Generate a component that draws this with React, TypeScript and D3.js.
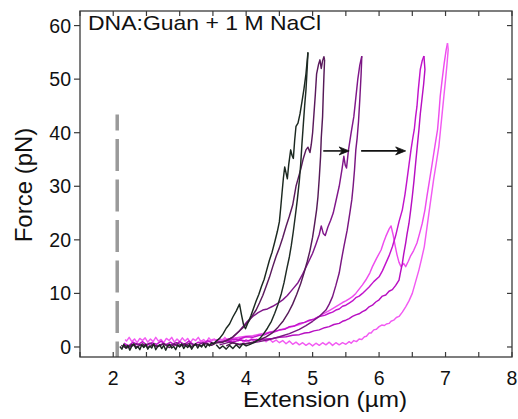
import React from 'react';
import * as d3 from 'd3';

type P = [number, number];

// ---------- data ----------
const xMajorTicks = [2, 3, 4, 5, 6, 7, 8];
const xMinorTicks = [1.5, 2, 2.5, 3, 3.5, 4, 4.5, 5, 5.5, 6, 6.5, 7, 7.5, 8];
const yTicks = [0, 10, 20, 30, 40, 50, 60];

const annotation = 'DNA:Guan + 1 M NaCl';
const xTitle = 'Extension (\u00b5m)';
const yTitle = 'Force (pN)';

// cycle 1 (black)
const blackStretch: P[] = [
  [2.10, 0.1], [2.13, -0.4], [2.16, 0.5], [2.19, -0.2], [2.22, 0.3], [2.25, -0.6], [2.28, 0.2], [2.31, 0.6],
  [2.34, -0.3], [2.37, 0.1], [2.40, -0.5], [2.43, 0.4], [2.46, -0.1], [2.49, 0.5], [2.52, -0.4], [2.55, 0.2],
  [2.58, -0.2], [2.61, 0.6], [2.64, -0.5], [2.67, 0.1], [2.70, 0.4], [2.73, -0.3], [2.76, 0.3], [2.79, -0.6],
  [2.82, 0.2], [2.85, 0.5], [2.88, -0.2], [2.91, 0.1], [2.94, -0.5], [2.97, 0.4], [3.00, 0.0], [3.03, 0.6],
  [3.06, -0.3], [3.09, 0.3], [3.12, -0.1], [3.15, 0.5], [3.18, -0.4], [3.21, 0.2], [3.24, 0.6], [3.27, -0.2],
  [3.30, 0.4], [3.33, 0.0], [3.36, 0.6], [3.39, -0.1], [3.42, 0.5], [3.45, 0.2], [3.48, 0.8], [3.51, 0.6],
  [3.55, 1.1], [3.60, 1.6], [3.65, 2.4], [3.70, 3.5], [3.75, 4.3], [3.80, 5.6], [3.85, 6.7], [3.90, 8.0],
  [3.93, 6.0], [3.96, 4.2], [3.99, 3.4], [4.03, 4.6], [4.07, 5.8], [4.11, 7.2], [4.15, 8.6], [4.19, 9.8],
  [4.23, 11.3], [4.27, 12.6], [4.31, 14.4], [4.35, 16.2], [4.39, 17.7], [4.43, 19.6], [4.47, 21.6], [4.50, 23.4],
  [4.52, 26.0], [4.54, 28.8], [4.56, 31.5], [4.58, 33.6], [4.60, 32.5], [4.62, 31.4], [4.64, 34.0], [4.67, 36.8],
  [4.69, 35.8], [4.71, 35.2], [4.73, 38.6], [4.75, 41.2], [4.78, 41.8], [4.81, 43.5], [4.84, 45.8], [4.87, 48.2],
  [4.90, 51.0], [4.93, 55.0],
];
const blackRelax: P[] = [
  [4.93, 55.0], [4.92, 52.4], [4.90, 48.0], [4.88, 45.0], [4.86, 41.5], [4.84, 38.0], [4.82, 34.0], [4.80, 31.0],
  [4.77, 27.5], [4.74, 24.5], [4.71, 21.6], [4.68, 19.0], [4.65, 16.8], [4.61, 14.5], [4.57, 12.0], [4.53, 10.0],
  [4.48, 8.0], [4.43, 6.3], [4.38, 4.8], [4.32, 3.5], [4.26, 2.4], [4.20, 1.5], [4.13, 0.9], [4.06, 0.5],
  [4.00, 0.2], [3.95, 0.6], [3.90, -0.2], [3.85, 0.4], [3.80, -0.3], [3.75, 0.3], [3.70, -0.4], [3.65, 0.2],
  [3.60, -0.3], [3.55, 0.4],
];

// cycle 2 (dark purple)
const c2Stretch: P[] = [
  [2.12, 0.3], [2.20, -0.2], [2.28, 0.5], [2.36, 0.0], [2.44, 0.6], [2.52, -0.1], [2.60, 0.4], [2.68, 0.1],
  [2.76, 0.6], [2.84, -0.1], [2.92, 0.5], [3.00, 0.1], [3.08, 0.6], [3.16, 0.0], [3.24, 0.5], [3.32, 0.2],
  [3.40, 0.7], [3.48, 0.3], [3.56, 0.8], [3.65, 0.9], [3.72, 1.3], [3.80, 1.9], [3.88, 2.8], [3.96, 3.7],
  [4.04, 4.8], [4.10, 6.0], [4.15, 6.9], [4.20, 8.2], [4.25, 9.6], [4.30, 11.3], [4.35, 13.0], [4.40, 15.0],
  [4.45, 16.9], [4.50, 18.5], [4.55, 20.4], [4.60, 22.5], [4.65, 24.4], [4.70, 26.5], [4.75, 30.0], [4.79, 31.8],
  [4.82, 33.1], [4.86, 35.2], [4.90, 36.8], [4.93, 37.3], [4.96, 36.3], [4.98, 37.8], [5.00, 40.0], [5.02, 43.5],
  [5.04, 47.0], [5.06, 51.0], [5.09, 52.8], [5.11, 53.6], [5.13, 52.0], [5.15, 53.4], [5.17, 54.2], [5.18, 53.6],
];
const c2Relax: P[] = [
  [5.18, 53.6], [5.17, 50.5], [5.16, 47.0], [5.15, 43.0], [5.13, 39.0], [5.12, 35.6], [5.10, 31.5], [5.08, 28.0],
  [5.06, 25.6], [5.03, 23.0], [5.00, 20.5], [4.96, 18.0], [4.92, 16.0], [4.87, 13.8], [4.82, 11.8], [4.76, 9.8],
  [4.70, 8.0], [4.63, 6.3], [4.56, 4.9], [4.48, 3.7], [4.40, 2.7], [4.30, 1.9], [4.20, 1.3], [4.10, 0.9],
  [4.00, 0.6], [3.90, 0.4], [3.80, 0.8], [3.70, 0.2],
];

// cycle 3 (purple)
const c3Stretch: P[] = [
  [2.15, 0.4], [2.25, 0.0], [2.35, 0.6], [2.45, 0.2], [2.55, 0.7], [2.65, 0.1], [2.75, 0.6], [2.85, 0.3],
  [2.95, 0.8], [3.05, 0.2], [3.15, 0.7], [3.25, 0.3], [3.35, 0.8], [3.45, 0.4], [3.55, 0.9], [3.65, 1.0],
  [3.72, 1.3], [3.80, 1.8], [3.90, 3.0], [3.95, 3.8], [4.02, 4.8], [4.10, 5.7], [4.18, 6.4], [4.25, 6.9],
  [4.32, 7.1], [4.40, 7.6], [4.48, 8.2], [4.55, 8.8], [4.62, 9.6], [4.70, 10.8], [4.78, 12.0], [4.85, 13.6],
  [4.92, 15.4], [5.00, 17.5], [5.05, 19.2], [5.10, 21.0], [5.13, 22.6], [5.16, 21.2], [5.19, 20.8], [5.23, 22.4],
  [5.27, 23.6], [5.31, 25.0], [5.35, 27.2], [5.40, 30.0], [5.44, 33.0], [5.47, 35.6], [5.49, 34.0], [5.51, 33.4],
  [5.54, 36.8], [5.58, 40.0], [5.62, 43.0], [5.65, 46.5], [5.68, 50.0], [5.71, 52.6], [5.74, 54.3],
];
const c3Relax: P[] = [
  [5.74, 54.3], [5.73, 51.0], [5.71, 46.2], [5.69, 42.0], [5.67, 39.0], [5.65, 36.8], [5.63, 33.0], [5.61, 30.0],
  [5.59, 27.5], [5.56, 25.0], [5.52, 21.8], [5.47, 18.7], [5.43, 16.0], [5.40, 13.8], [5.35, 11.5], [5.30, 9.4],
  [5.25, 8.0], [5.20, 6.9], [5.10, 5.7], [5.00, 4.8], [4.90, 4.0], [4.80, 3.3], [4.65, 2.5], [4.50, 1.9],
  [4.35, 1.4], [4.20, 1.0], [4.05, 0.7], [3.90, 0.5], [3.75, 0.9], [3.60, 0.4],
];

// cycle 4 (magenta)
const c4Stretch: P[] = [
  [2.16, 0.7], [2.23, 0.2], [2.30, 0.9], [2.37, 0.4], [2.44, 1.0], [2.51, 0.3], [2.58, 0.8], [2.65, 0.5],
  [2.72, 1.1], [2.79, 0.4], [2.86, 0.9], [2.93, 0.3], [3.00, 1.0], [3.07, 0.5], [3.14, 1.1], [3.21, 0.4],
  [3.28, 0.9], [3.35, 0.6], [3.42, 1.2], [3.50, 0.7], [3.60, 1.0], [3.70, 1.1], [3.80, 1.4], [3.90, 1.5],
  [4.00, 1.9], [4.10, 1.8], [4.20, 2.2], [4.28, 2.3], [4.35, 2.7], [4.42, 2.8], [4.50, 3.2], [4.58, 3.3],
  [4.65, 3.8], [4.72, 3.9], [4.80, 4.4], [4.88, 4.6], [4.95, 5.0], [5.02, 5.2], [5.10, 5.7], [5.18, 5.9],
  [5.25, 6.3], [5.30, 6.5], [5.35, 6.9], [5.40, 7.1], [5.45, 7.6], [5.50, 7.8], [5.55, 8.2], [5.60, 8.6],
  [5.65, 9.2], [5.70, 9.5], [5.75, 10.0], [5.80, 10.6], [5.85, 11.2], [5.92, 12.2], [6.00, 13.1], [6.05, 14.2],
  [6.10, 15.6], [6.15, 17.0], [6.20, 18.7], [6.25, 20.8], [6.30, 23.4], [6.35, 25.6], [6.39, 28.5], [6.42, 31.2],
  [6.45, 34.0], [6.48, 36.8], [6.51, 39.2], [6.53, 40.6], [6.55, 43.0], [6.57, 44.9], [6.59, 48.0], [6.62, 51.8],
  [6.65, 53.5], [6.675, 54.3],
];
const c4Relax: P[] = [
  [6.675, 54.3], [6.69, 51.8], [6.67, 49.0], [6.65, 46.8], [6.62, 43.5], [6.60, 40.6], [6.575, 37.5], [6.55, 34.3],
  [6.525, 31.0], [6.50, 28.1], [6.475, 25.5], [6.45, 23.1], [6.42, 21.0], [6.40, 19.4], [6.37, 17.3], [6.35, 15.6],
  [6.32, 13.8], [6.30, 12.5], [6.25, 11.5], [6.20, 10.7], [6.15, 10.4], [6.10, 9.7], [6.05, 9.5], [6.00, 8.8],
  [5.95, 8.4], [5.90, 7.8], [5.85, 7.5], [5.80, 6.9], [5.75, 6.6], [5.70, 6.2], [5.65, 6.0], [5.60, 5.7],
  [5.55, 5.3], [5.50, 5.0], [5.45, 4.8], [5.40, 4.4], [5.32, 4.2], [5.25, 3.8], [5.18, 3.6], [5.10, 3.2],
  [5.02, 3.0], [4.95, 2.7], [4.88, 2.6], [4.80, 2.3], [4.70, 2.2], [4.60, 1.9], [4.50, 1.8], [4.40, 1.6],
  [4.30, 1.5], [4.20, 1.3], [4.10, 1.4], [4.00, 1.1], [3.90, 1.3], [3.80, 0.9], [3.70, 1.2], [3.60, 0.8],
];

// cycle 5 (pink)
const c5Stretch: P[] = [
  [3.30, 1.2], [3.40, 0.8], [3.50, 1.4], [3.60, 1.3], [3.70, 1.5], [3.80, 1.6], [3.90, 1.8], [4.00, 2.0],
  [4.10, 2.1], [4.20, 2.4], [4.30, 2.6], [4.40, 2.9], [4.50, 3.1], [4.60, 3.5], [4.70, 3.8], [4.80, 4.2],
  [4.88, 4.6], [4.95, 4.9], [5.02, 5.2], [5.10, 5.7], [5.18, 6.3], [5.25, 6.8], [5.32, 7.3], [5.40, 7.9],
  [5.45, 8.3], [5.50, 8.6], [5.55, 9.0], [5.60, 9.4], [5.65, 10.0], [5.70, 10.8], [5.75, 11.6], [5.80, 12.5],
  [5.86, 13.8], [5.90, 15.0], [5.96, 16.5], [6.03, 18.1], [6.07, 19.6], [6.10, 20.6], [6.15, 22.0], [6.18, 22.6],
  [6.21, 21.0], [6.24, 19.0], [6.27, 17.2], [6.30, 15.8], [6.33, 15.0], [6.37, 15.6], [6.40, 15.0], [6.44, 16.0],
  [6.47, 16.9], [6.52, 18.0], [6.57, 19.4], [6.61, 21.2], [6.65, 23.1], [6.69, 25.6], [6.72, 28.1], [6.76, 31.2],
  [6.80, 34.3], [6.84, 37.5], [6.88, 40.6], [6.90, 43.5], [6.92, 46.8], [6.95, 50.0], [6.98, 53.0], [7.01, 55.5],
  [7.03, 56.7],
];
const c5Relax: P[] = [
  [7.03, 56.7], [7.04, 55.5], [7.02, 52.5], [7.00, 49.9], [6.975, 46.8], [6.95, 43.7], [6.925, 40.6], [6.90, 37.5],
  [6.86, 34.3], [6.82, 31.2], [6.785, 28.1], [6.75, 25.0], [6.715, 21.8], [6.68, 18.7], [6.64, 16.5], [6.60, 14.4],
  [6.55, 12.2], [6.50, 10.0], [6.45, 8.6], [6.40, 7.5], [6.35, 6.5], [6.30, 5.7], [6.26, 5.5], [6.22, 5.0],
  [6.18, 4.8], [6.15, 4.4], [6.11, 4.3], [6.08, 4.0], [6.04, 4.1], [6.00, 3.8], [5.96, 3.3], [5.92, 3.2],
  [5.88, 2.6], [5.85, 2.6], [5.81, 2.0], [5.78, 1.9], [5.74, 1.4], [5.70, 1.5], [5.66, 1.0], [5.62, 1.2],
  [5.58, 0.7], [5.55, 1.0], [5.50, 0.5], [5.45, 0.8], [5.40, 0.4], [5.35, 0.8], [5.30, 0.3], [5.25, 0.9],
  [5.20, 0.4], [5.15, 0.8], [5.10, 0.3], [5.05, 0.7], [5.00, 0.2], [4.95, 0.7], [4.90, 0.3], [4.85, 0.8],
  [4.80, 0.4], [4.75, 0.9], [4.70, 0.5], [4.65, 1.1], [4.60, 0.6], [4.55, 1.2], [4.50, 0.8], [4.45, 1.3],
  [4.40, 0.9], [4.35, 1.5], [4.30, 1.0], [4.25, 1.6], [4.20, 1.1], [4.16, 1.5], [4.12, 0.9], [4.08, 1.6],
  [4.04, 1.0], [4.00, 1.4], [3.96, 0.8], [3.92, 1.6], [3.88, 1.1], [3.84, 1.7], [3.80, 0.9], [3.76, 1.5],
  [3.72, 1.0], [3.68, 1.8], [3.64, 1.2], [3.60, 1.6], [3.56, 0.8], [3.52, 1.5], [3.48, 1.1], [3.44, 1.7],
  [3.40, 0.9], [3.36, 1.4], [3.32, 1.0], [3.28, 1.8], [3.24, 1.2], [3.20, 1.5], [3.16, 0.8], [3.12, 1.6],
  [3.08, 1.1], [3.04, 1.7], [3.00, 1.0], [2.96, 1.5], [2.92, 0.9], [2.88, 1.8], [2.84, 1.2], [2.80, 1.6],
  [2.76, 0.8], [2.72, 1.4], [2.68, 1.1], [2.64, 1.8], [2.60, 1.0], [2.56, 1.5], [2.52, 0.9], [2.48, 1.7],
  [2.44, 1.2], [2.40, 1.6], [2.36, 0.8], [2.32, 1.5], [2.28, 1.0], [2.24, 1.8], [2.20, 1.1], [2.18, 1.4],
];

const curves: { name: string; color: string; pts: P[] }[] = [
  { name: 'c5s', color: '#ee4cee', pts: c5Stretch },
  { name: 'c5r', color: '#f25af2', pts: c5Relax },
  { name: 'c4s', color: '#c214cc', pts: c4Stretch },
  { name: 'c4r', color: '#b80fc2', pts: c4Relax },
  { name: 'c3s', color: '#80178a', pts: c3Stretch },
  { name: 'c3r', color: '#7a1682', pts: c3Relax },
  { name: 'c2s', color: '#5a1a5c', pts: c2Stretch },
  { name: 'c2r', color: '#561a58', pts: c2Relax },
  { name: 'c1s', color: '#1b2820', pts: blackStretch },
  { name: 'c1r', color: '#1e2b24', pts: blackRelax },
];

// arrows: start / end extension, force level
const arrows = [
  { from: 5.16, to: 5.55, force: 36.6 },
  { from: 5.73, to: 6.4, force: 36.6 },
];

// dashed reference line (extension, top force)
const refLineX = 2.06;
const refLineTop = 43.4;

// ---------- layout ----------
const W = 518;
const H = 419;
const L = 80, R = 512, T = 11, B = 357;

export default function App() {
  const x = d3.scaleLinear().domain([1.5, 8]).range([L, R]);
  const y = d3.scaleLinear().domain([-1.87, 62.72]).range([B, T]);
  const line = d3.line<P>().x((d) => x(d[0])).y((d) => y(d[1]));
  const font = '"Liberation Sans", Arial, sans-serif';

  return (
    <svg width={W} height={H} style={{ position: 'absolute', left: 0, top: 0, background: '#fff' }}>
      <defs>
        <clipPath id="plot">
          <rect x={L} y={T} width={R - L} height={B - T} />
        </clipPath>
      </defs>

      {/* dashed reference line */}
      <line
        x1={x(refLineX)} x2={x(refLineX)} y1={y(refLineTop)} y2={B}
        stroke="#9a9a9a" strokeWidth={3.5} strokeDasharray="32 8.5" strokeDashoffset={16}
      />

      <g clipPath="url(#plot)" fill="none" strokeWidth={1.45} strokeLinejoin="round">
        {curves.map((c) => (
          <path key={c.name} d={line(c.pts) || ''} stroke={c.color} />
        ))}
      </g>

      {/* arrows */}
      {arrows.map((a, i) => {
        const x1 = x(a.from), x2 = x(a.to), yy = y(a.force);
        return (
          <g key={i}>
            <line x1={x1} x2={x2 - 4} y1={yy} y2={yy} stroke="#111" strokeWidth={1.6} />
            <path d={`M${x2},${yy} L${x2 - 10},${yy - 4} L${x2 - 7},${yy} L${x2 - 10},${yy + 4} Z`} fill="#111" stroke="#111" strokeWidth={0.8} strokeLinejoin="miter" />
          </g>
        );
      })}

      {/* frame */}
      <rect x={L} y={T} width={R - L} height={B - T} fill="none" stroke="#3a3a3a" strokeWidth={1.3} />

      {/* top & bottom inward ticks */}
      {xMinorTicks.map((t) => (
        <g key={'xt' + t} stroke="#3a3a3a" strokeWidth={1.2}>
          <line x1={x(t)} x2={x(t)} y1={T} y2={T + 5} />
          <line x1={x(t)} x2={x(t)} y1={B} y2={B - 5} />
        </g>
      ))}
      {/* left outward, right inward ticks */}
      {yTicks.map((t) => (
        <g key={'yt' + t} stroke="#3a3a3a" strokeWidth={1.2}>
          <line x1={L - 6} x2={L} y1={y(t)} y2={y(t)} />
          <line x1={R - 5} x2={R} y1={y(t)} y2={y(t)} />
        </g>
      ))}

      {/* tick labels */}
      {xMajorTicks.map((t) => (
        <text key={'xl' + t} x={x(t)} y={384.5} textAnchor="middle" fontFamily={font} fontSize={19.5} fill="#111">
          {t}
        </text>
      ))}
      {yTicks.map((t) => (
        <text key={'yl' + t} x={71} y={y(t) + 7} textAnchor="end" fontFamily={font} fontSize={19.5} fill="#111">
          {t}
        </text>
      ))}

      {/* titles */}
      <text x={243} y={407} fontFamily={font} fontSize={21.5} fill="#111" textLength={164} lengthAdjust="spacingAndGlyphs">
        {xTitle}
      </text>
      <text
        transform={`translate(32,185) rotate(-90)`}
        textAnchor="middle" fontFamily={font} fontSize={24} fill="#111"
      >
        {yTitle}
      </text>
      <text x={88} y={29.5} fontFamily={font} fontSize={21} fill="#111" textLength={233} lengthAdjust="spacingAndGlyphs">
        {annotation}
      </text>
    </svg>
  );
}
